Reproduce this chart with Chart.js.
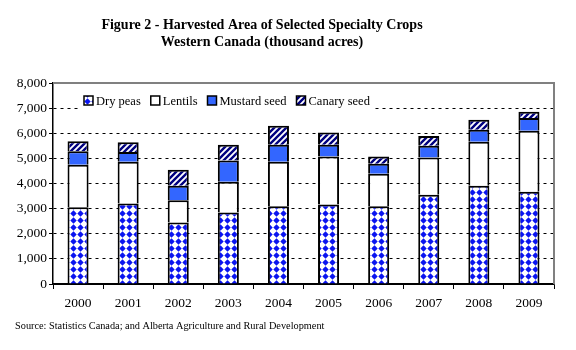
<!DOCTYPE html>
<html>
<head>
<meta charset="utf-8">
<script src="https://cdn.jsdelivr.net/npm/chart.js@4.4.0/dist/chart.umd.min.js"></script>
<style>
  html, body { margin: 0; padding: 0; background: #fff; }
  #wrap { width: 576px; height: 350px; position: relative; }
</style>
</head>
<body>
<div id="wrap"><canvas id="cropChart" width="576" height="350"></canvas></div>
<script>
(function () {
  var years = ['2000', '2001', '2002', '2003', '2004', '2005', '2006', '2007', '2008', '2009'];
  var dryPeas  = [3050, 3200, 2450, 2850, 3090, 3160, 3090, 3550, 3910, 3670];
  var lentils  = [1700, 1670,  880, 1220, 1780, 1910, 1300, 1480, 1750, 2430];
  var mustard  = [ 530,  380,  580,  850,  670,  470,  400,  470,  480,  510];
  var canary   = [ 400,  390,  640,  620,  760,  490,  280,  390,  400,  250];
  var yTicks   = [0, 1000, 2000, 3000, 4000, 5000, 6000, 7000, 8000];

  var titleLines = ['Figure 2 - Harvested Area of Selected Specialty Crops', 'Western Canada (thousand acres)'];
  var sourceText = 'Source: Statistics Canada; and Alberta Agriculture and Rural Development';
  var serif = '"Liberation Serif", "Times New Roman", serif';

  function diamondPattern() {
    var c = document.createElement('canvas');
    c.width = 7; c.height = 7;
    var g = c.getContext('2d');
    g.fillStyle = '#fff'; g.fillRect(0, 0, 7, 7);
    g.fillStyle = '#0a14f0';
    g.beginPath();
    g.moveTo(3.5, 0.3); g.lineTo(6.7, 3.5); g.lineTo(3.5, 6.7); g.lineTo(0.3, 3.5);
    g.closePath(); g.fill();
    return g.createPattern(c, 'repeat');
  }

  function stripePattern() {
    var c = document.createElement('canvas');
    c.width = 6; c.height = 6;
    var g = c.getContext('2d');
    g.fillStyle = '#fff'; g.fillRect(0, 0, 6, 6);
    g.strokeStyle = '#000080'; g.lineWidth = 2.4;
    g.beginPath();
    g.moveTo(-1, 7); g.lineTo(7, -1);
    g.moveTo(-4, 4); g.lineTo(4, -4);
    g.moveTo(2, 10); g.lineTo(10, 2);
    g.stroke();
    return g.createPattern(c, 'repeat');
  }

  var peasFill = diamondPattern();
  var canaryFill = stripePattern();

  function ds(label, data, fill) {
    return {
      label: label, data: data, backgroundColor: fill,
      borderColor: '#000', borderWidth: 2,
      barPercentage: 0.42, categoryPercentage: 1.0
    };
  }

  var decor = {
    id: 'decor',
    afterDraw: function (chart) {
      var ctx = chart.ctx, a = chart.chartArea;
      ctx.save();
      // grey frame on top and right
      ctx.strokeStyle = '#808080'; ctx.lineWidth = 2;
      ctx.beginPath();
      ctx.moveTo(a.left, a.top); ctx.lineTo(a.right, a.top); ctx.lineTo(a.right, a.bottom);
      ctx.stroke();

      // title
      ctx.fillStyle = '#000';
      ctx.font = 'bold 14px ' + serif;
      ctx.textAlign = 'center'; ctx.textBaseline = 'alphabetic';
      ctx.fillText(titleLines[0], 262, 29);
      ctx.fillText(titleLines[1], 262, 46);

      // source
      ctx.font = '10.3px ' + serif;
      ctx.textAlign = 'left';
      ctx.fillText(sourceText, 15, 329);

      // legend
      ctx.fillStyle = '#fff';
      ctx.fillRect(79, 90, 296, 21);
      ctx.font = '12.5px ' + serif;
      var x = 84;
      chart.data.datasets.forEach(function (d) {
        ctx.fillStyle = d.backgroundColor;
        ctx.fillRect(x, 96, 9, 9);
        ctx.strokeStyle = '#000'; ctx.lineWidth = 1.5;
        ctx.strokeRect(x, 96, 9, 9);
        ctx.fillStyle = '#000';
        ctx.fillText(d.label, x + 12, 105);
        x += 12 + ctx.measureText(d.label).width + 10;
      });
      ctx.restore();
    }
  };

  new Chart(document.getElementById('cropChart'), {
    type: 'bar',
    data: {
      labels: years,
      datasets: [
        ds('Dry peas', dryPeas, peasFill),
        ds('Lentils', lentils, '#ffffff'),
        ds('Mustard seed', mustard, '#3366ff'),
        ds('Canary seed', canary, canaryFill)
      ]
    },
    options: {
      responsive: false,
      animation: false,
      layout: { padding: { top: 83, right: 22, left: 0, bottom: 0 } },
      plugins: { legend: { display: false }, tooltip: { enabled: false }, title: { display: false } },
      scales: {
        x: {
          stacked: true,
          afterFit: function (s) { s.height = 66; },
          grid: { offset: true, drawOnChartArea: false, color: '#000', tickLength: 5, lineWidth: 1 },
          border: { color: '#000', width: 1.5 },
          ticks: { color: '#000', font: { family: serif, size: 13.5 }, padding: 6 }
        },
        y: {
          stacked: true,
          min: 0, max: 8000,
          afterFit: function (s) { s.width = 53; },
          afterBuildTicks: function (s) { s.ticks = yTicks.map(function (v) { return { value: v }; }); },
          grid: {
            color: function (c) { return (c.tick && c.tick.value === 8000) ? 'rgba(0,0,0,0)' : '#000'; },
            tickColor: '#000', tickLength: 4, lineWidth: 1
          },
          border: {
            color: '#000', width: 1.5,
            dash: function (c) { return (c.tick && c.tick.value > 0 && c.tick.value < 8000) ? [3, 4] : []; }
          },
          ticks: {
            color: '#000', padding: 2,
            font: { family: serif, size: 13.5 },
            callback: function (v) { return Number(v).toLocaleString('en-US'); }
          }
        }
      }
    },
    plugins: [decor]
  });
})();
</script>
</body>
</html>
